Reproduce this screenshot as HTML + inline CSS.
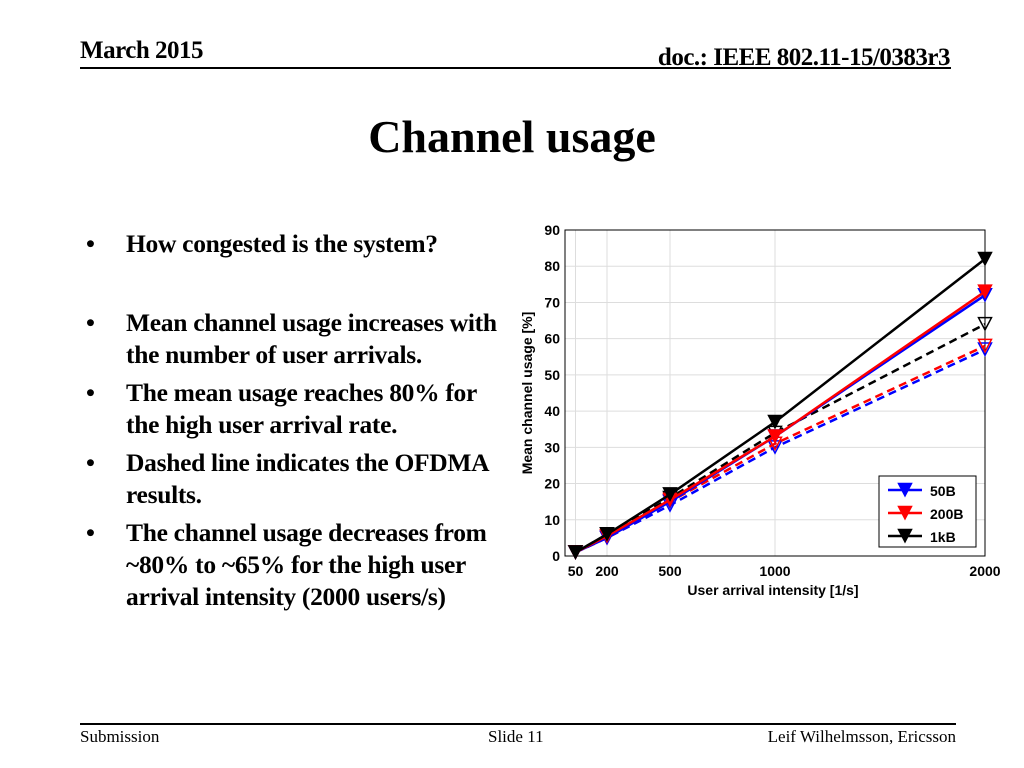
<!DOCTYPE html>
<html><head><meta charset="utf-8"><style>
body{margin:0;width:1024px;height:768px;background:#fff;position:relative;overflow:hidden;font-family:"Liberation Serif",serif}
.a{position:absolute}
</style></head><body>
<div class="a" style="left:80px;top:37px;font-size:25px;font-weight:bold;letter-spacing:-0.5px">March 2015</div>
<div class="a" style="right:74px;top:44px;font-size:25px;font-weight:bold;letter-spacing:-0.5px">doc.: IEEE 802.11-15/0383r3</div>
<div class="a" style="left:80px;top:67px;width:871px;height:2px;background:#000"></div>
<div class="a" style="left:0;width:1024px;text-align:center;top:110px;font-size:46px;font-weight:bold">Channel usage</div>
<div class="a" style="left:86px;top:228px;font-size:25.5px;font-weight:bold;line-height:32px;letter-spacing:-0.3px">
<div style="position:relative;padding-left:40px;margin-bottom:47px"><span style="position:absolute;left:0">•</span>How congested is the system?</div>
<div style="position:relative;padding-left:40px;margin-bottom:6px"><span style="position:absolute;left:0">•</span>Mean channel usage increases with<br>the number of user arrivals.</div>
<div style="position:relative;padding-left:40px;margin-bottom:6px"><span style="position:absolute;left:0">•</span>The mean usage reaches 80% for<br>the high user arrival rate.</div>
<div style="position:relative;padding-left:40px;margin-bottom:6px"><span style="position:absolute;left:0">•</span>Dashed line indicates the OFDMA<br>results.</div>
<div style="position:relative;padding-left:40px"><span style="position:absolute;left:0">•</span>The channel usage decreases from<br>~80% to ~65% for the high user<br>arrival intensity (2000 users/s)</div>
</div>
<div class="a" style="left:80px;top:723px;width:876px;height:2px;background:#000"></div>
<div class="a" style="left:80px;top:727px;font-size:17px">Submission</div>
<div class="a" style="left:488px;top:727px;font-size:17px">Slide 11</div>
<div class="a" style="right:68px;top:727px;font-size:17px">Leif Wilhelmsson, Ericsson</div>
<svg class="a" style="left:0;top:0" width="1024" height="768" id="chart" font-family="Liberation Sans, sans-serif" font-weight="bold"></svg>
<script>
const xCats=[50,200,500,1000,2000];
const xTicks=[50,200,500,1000,2000];
const yTicks=[0,10,20,30,40,50,60,70,80,90];
const solid50=[1,5,15,33,72];
const solid200=[1,5.5,15.5,33,73];
const solid1k=[1,6,17,37,82];
const dash50=[1,5,14,30,57];
const dash200=[1,5,15,31,58];
const dash1k=[1,6,16,34,64];
const seriesNames=["50B","200B","1kB"];
const L=565,R=985,T=230,B=556;
const X=v=>L+(v/2000)*(R-L);
const Y=v=>B-(v/90)*(B-T);
const svg=document.getElementById('chart');
const NS='http://www.w3.org/2000/svg';
function mk(t,a){const e=document.createElementNS(NS,t);for(const k in a)e.setAttribute(k,a[k]);svg.appendChild(e);return e;}
const bg=mk('rect',{x:L,y:T,width:R-L,height:B-T,fill:'#fff',stroke:'none'});


yTicks.forEach(t=>{
 const g=mk('line',{x1:L,x2:R,y1:Y(t),y2:Y(t),stroke:'#ddd','stroke-width':1});
 
 
 const tx=mk('text',{x:L-5,y:Y(t)+5,'text-anchor':'end','font-size':14});
 tx.textContent=t;
 
 
});
xTicks.forEach(t=>{
 const g=mk('line',{x1:X(t),x2:X(t),y1:T,y2:B,stroke:'#ddd','stroke-width':1});
 
 
 const tx=mk('text',{x:X(t),y:B+20,'text-anchor':'middle','font-size':14});
 tx.textContent=t;
 
 
});
const ax=mk('rect',{x:L,y:T,width:R-L,height:B-T,fill:'none',stroke:'#000','stroke-width':1});


function tri(cx,cy,c,fill){const s=6.5;const p=mk('polygon',{points:`${cx-s},${cy-s} ${cx+s},${cy-s} ${cx},${cy+s*0.9}`,fill:fill,stroke:c,'stroke-width':1.5});return p;}
function series(vals,c,dash,name){
 const pl=mk('polyline',{points:vals.map((v,i)=>X(xCats[i])+','+Y(v)).join(' '),fill:'none',stroke:c,'stroke-width':2.5,'stroke-dasharray':dash?'8,5':'none'});
 
 
 vals.forEach((v,i)=>{const p=tri(X(xCats[i]),Y(v),c,dash?'none':c);
  
  });
}
series(dash50,'#00f',true,'dashed-50b');
series(dash200,'#f00',true,'dashed-200b');
series(dash1k,'#000',true,'dashed-1kb');
series(solid50,'#00f',false,'solid-50b');
series(solid200,'#f00',false,'solid-200b');
series(solid1k,'#000',false,'solid-1kb');
const lg=mk('rect',{x:879,y:476,width:97,height:71,fill:'#fff',stroke:'#000','stroke-width':1});


const cols=['#00f','#f00','#000'];
seriesNames.forEach((n,i)=>{
 const y=490+i*23;
 const l=mk('line',{x1:888,x2:922,y1:y,y2:y,stroke:cols[i],'stroke-width':2.5});
 
 
 tri(905,y,cols[i],cols[i]);
 const t=mk('text',{x:930,y:y+6,'font-size':14});
 t.textContent=n;
 
 
});
const xt=mk('text',{x:773,y:595,'text-anchor':'middle','font-size':14});
xt.textContent='User arrival intensity [1/s]';


const yt=mk('text',{x:0,y:0,'text-anchor':'middle','font-size':14,transform:`translate(532,${(T+B)/2}) rotate(-90)`});
yt.textContent='Mean channel usage [%]';


</script>
</body></html>
